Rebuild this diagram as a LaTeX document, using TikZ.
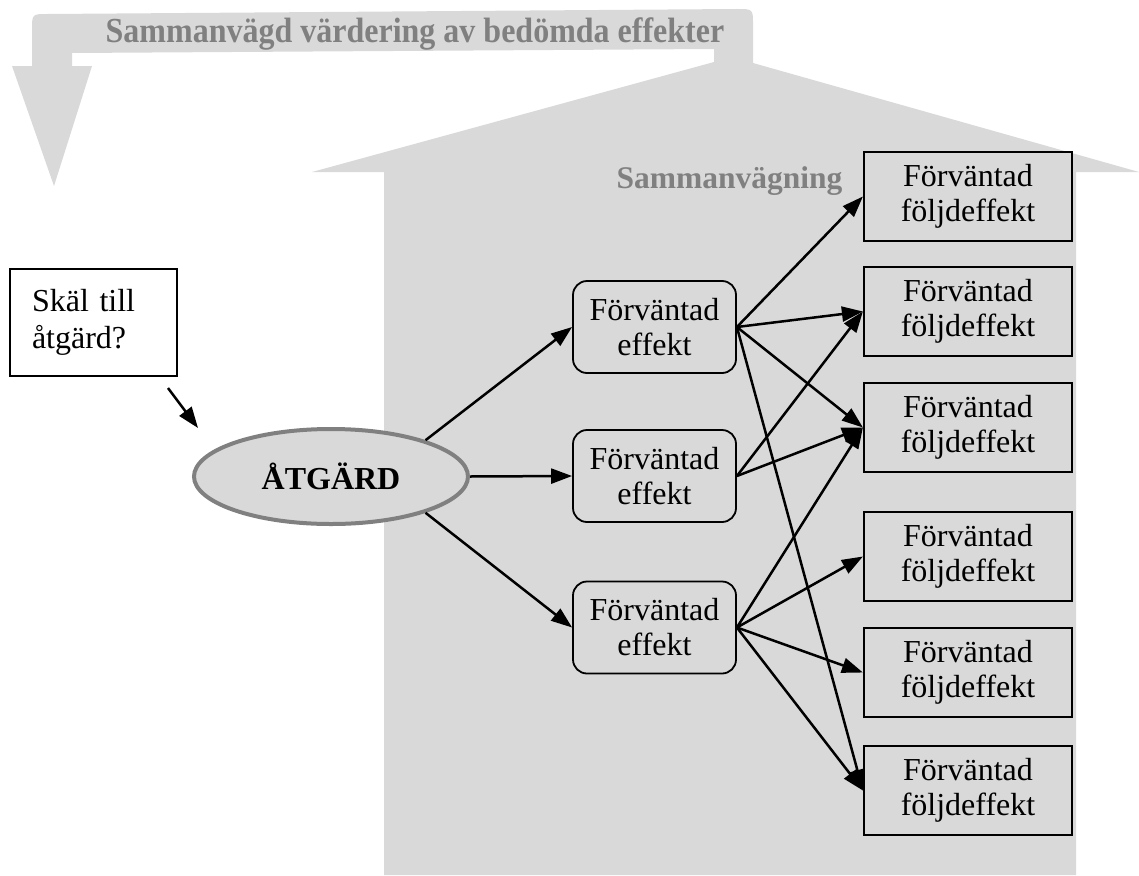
\documentclass[tikz,border=0pt]{standalone}
\usepackage{fontspec}
\setmainfont{Liberation Serif}
\usetikzlibrary{shapes.geometric,arrows.meta}
\definecolor{housegray}{HTML}{D9D9D9}
\definecolor{greytext}{HTML}{808080}
\tikzset{
  arr/.style={line width=2.5pt,-{Triangle[length=21pt,width=15pt]}},
  effbox/.style={draw,rounded corners=14pt,line width=1.8pt,minimum width=163pt,
    minimum height=92pt,align=center,inner sep=0pt,
    font=\fontsize{32}{35}\selectfont},
  foljbox/.style={draw,line width=2.2pt,minimum width=208pt,minimum height=89pt,
    align=center,inner sep=0pt,font=\fontsize{32}{35}\selectfont},
  reasonbox/.style={draw,fill=white,line width=2.2pt,minimum width=167pt,
    minimum height=107pt,text width=123pt,inner xsep=22pt,align=left,
    font=\fontsize{32}{37}\selectfont},
  actionnode/.style={ellipse,draw=greytext,fill=housegray,line width=4pt,
    minimum width=274pt,minimum height=95pt,inner sep=0pt,
    font=\fontsize{32}{35}\selectfont\bfseries},
  greylabel/.style={text=greytext,anchor=base,inner sep=0pt}
}
\begin{document}
\begin{tikzpicture}[x=1pt,y=-1pt]
\useasboundingbox (0,0) rectangle (1139,875);
% house with the U-turn arrow rising out of its roof
\fill[housegray] (384,875) -- (384,172) -- (312,172) -- (714,62) -- (714,49)
  -- (72,53) -- (72,66) -- (92,66) -- (54,186) -- (12,66) -- (32,66)
  -- (32,30) .. controls (32,14) .. (48,14)
  -- (737,9) .. controls (753,9) .. (753,25)
  -- (753,63) -- (1139,172) -- (1076,172) -- (1076,875) -- cycle;
\node[greylabel,font=\fontsize{32}{35}\selectfont\bfseries] (title) at (415,42)
  {\scalebox{1}[1.1]{Sammanvägd värdering av bedömda effekter}};
\node[greylabel,font=\fontsize{31.5}{35}\selectfont\bfseries] (sum) at (729.5,188)
  {Sammanvägning};
% nodes
\node[reasonbox] (reason) at (93.5,322.5) {Skäl till\\åtgärd?};
\node[actionnode] (atg) at (331,476.5) {ÅTGÄRD};
\node[effbox] (e1) at (654.5,327) {Förväntad\\effekt};
\node[effbox] (e2) at (654.5,476) {Förväntad\\effekt};
\node[effbox] (e3) at (654.5,627.5) {Förväntad\\effekt};
\foreach \i/\y in {1/196.5,2/311.5,3/427.5,4/556.5,5/672.5,6/790.5}
  \node[foljbox] (f\i) at (968,\y) {Förväntad\\följdeffekt};
% connectors
\coordinate (r1) at (168,388);
\coordinate (r2) at (198,428);
\draw[arr] (r1) -- (r2);
\draw[arr] (atg.21) -- (e1.west);
\draw[arr] (atg.east) -- (e2.west);
\draw[arr] (atg.-21) -- (e3.west);
\foreach \t in {1,2,3,6} \draw[arr] (e1.east) -- (f\t.west);
\foreach \t in {2,3} \draw[arr] (e2.east) -- (f\t.west);
\foreach \t in {3,4,5,6} \draw[arr] (e3.east) -- (f\t.west);
\end{tikzpicture}
\end{document}
